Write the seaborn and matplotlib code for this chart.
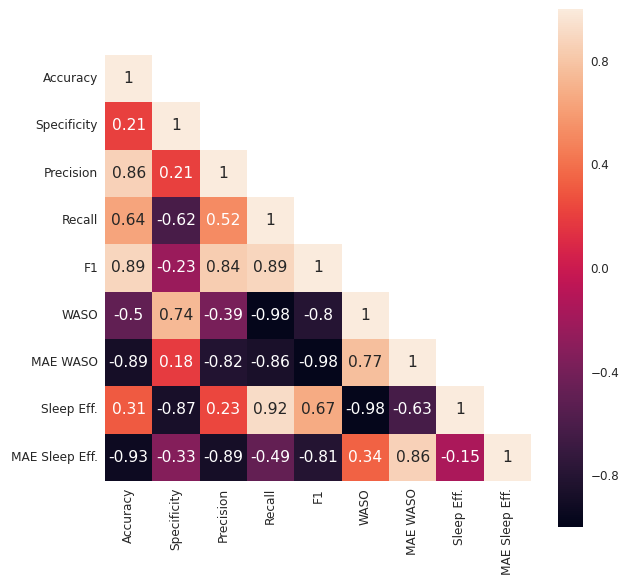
import numpy as np
import pandas as pd
import matplotlib
matplotlib.use("Agg")
import matplotlib.pyplot as plt
import seaborn as sns

metrics = ["Accuracy", "Specificity", "Precision", "Recall", "F1",
           "WASO", "MAE WASO", "Sleep Eff.", "MAE Sleep Eff."]

# lower-triangle rows of the correlation matrix (diagonal included)
row_accuracy = [1]
row_specificity = [0.21, 1]
row_precision = [0.86, 0.21, 1]
row_recall = [0.64, -0.62, 0.52, 1]
row_f1 = [0.89, -0.23, 0.84, 0.89, 1]
row_waso = [-0.5, 0.74, -0.39, -0.98, -0.8, 1]
row_mae_waso = [-0.89, 0.18, -0.82, -0.86, -0.98, 0.77, 1]
row_sleep_eff = [0.31, -0.87, 0.23, 0.92, 0.67, -0.98, -0.63, 1]
row_mae_sleep_eff = [-0.93, -0.33, -0.89, -0.49, -0.81, 0.34, 0.86, -0.15, 1]

rows = [row_accuracy, row_specificity, row_precision, row_recall, row_f1,
        row_waso, row_mae_waso, row_sleep_eff, row_mae_sleep_eff]

n = len(metrics)
corr = np.full((n, n), np.nan)
for i, r in enumerate(rows):
    corr[i, :len(r)] = r
    corr[:len(r), i] = r
corr_df = pd.DataFrame(corr, index=metrics, columns=metrics)
mask = np.triu(np.ones((n, n), dtype=bool), k=1)

sns.set_style("white")
plt.rcParams["font.family"] = ["DejaVu Sans"]

fig = plt.figure(figsize=(6.21, 5.77), dpi=100)
ax = fig.add_axes([105 / 621, 1 - 481 / 577, 426 / 621, 426 / 577])
cax = fig.add_axes([557.7 / 621, 1 - 527 / 577, 25.3 / 621, 518 / 577])

sns.heatmap(corr_df, mask=mask, cmap="rocket", vmin=-1, vmax=1,
            annot=True, annot_kws={"fontsize": 11.2},
            square=False, ax=ax, cbar_ax=cax)

ax.tick_params(axis="both", length=0, labelsize=8.7, pad=5)
ax.set_xticklabels(metrics, rotation=90)
ax.set_yticklabels(metrics, rotation=0)

cax.tick_params(length=0, labelsize=8.6, pad=5.5)
cax.set_yticks([-0.8, -0.4, 0.0, 0.4, 0.8])

fig.savefig("out.png", dpi=100)
